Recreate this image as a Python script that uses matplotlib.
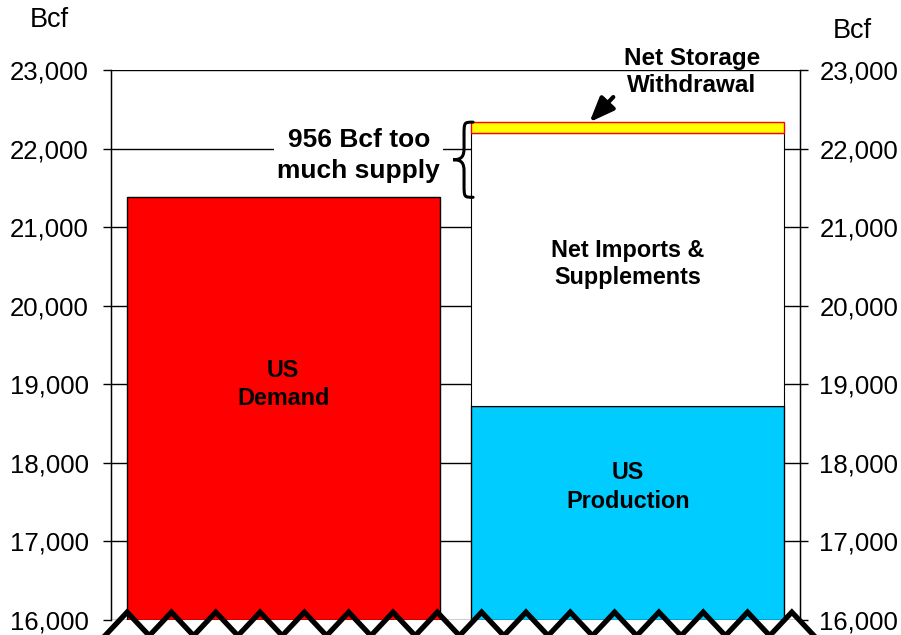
import matplotlib
matplotlib.use("Agg")
import matplotlib.pyplot as plt
import numpy as np
from matplotlib.path import Path
from matplotlib.patches import PathPatch

plt.rcParams['font.family'] = ['Liberation Sans', 'DejaVu Sans']

# ---- data ----
categories = ["US Demand", "Supply"]
demand = 21380
production = 18720
net_imports = 3480      # stacked above production
storage_withdrawal = 136  # stacked on top
y_ticks = [16000, 17000, 18000, 19000, 20000, 21000, 22000, 23000]
y_min, y_max = 16000, 23000

fig = plt.figure(figsize=(9.01, 6.35), dpi=100)
ax = fig.add_axes([111/901, 1-620/635, 689/901, 550/635])
ax.set_xlim(-0.5, 1.5)
ax.set_ylim(y_min, y_max)

w = 0.91
# left bar (demand)
ax.bar(0, demand - y_min, bottom=y_min, width=w, color='#FF0000', edgecolor='black', linewidth=1, zorder=2)
# right stacked bar
ax.bar(1, production - y_min, bottom=y_min, width=w, color='#00CCFF', edgecolor='black', linewidth=1, zorder=2)
ax.bar(1, net_imports, bottom=production, width=w, color='white', edgecolor='black', linewidth=0.8, zorder=2)
top_imp = production + net_imports
ax.bar(1, storage_withdrawal, bottom=top_imp, width=w, color='#FFFF00', edgecolor='#FF0000', linewidth=1, zorder=2)
supply_total = top_imp + storage_withdrawal

# grid
ax.set_yticks(y_ticks)
ax.yaxis.grid(True, color='black', linewidth=1)
ax.set_axisbelow(True)
ax.set_xticks([])
fmt = [f"{t:,}" for t in y_ticks]
ax.set_yticklabels(fmt)
ax.tick_params(axis='y', direction='out', length=6, width=1, pad=10, labelsize=18.5, colors='black')
for s in ['top', 'bottom']:
    ax.spines[s].set_visible(False)
for s in ['left', 'right']:
    ax.spines[s].set_linewidth(1)

ax2 = ax.twinx()
ax2.set_ylim(y_min, y_max)
ax2.set_yticks(y_ticks)
ax2.set_yticklabels(fmt)
ax2.tick_params(axis='y', direction='out', length=6, width=1, pad=8, labelsize=18.5)
for s in ['top', 'bottom']:
    ax2.spines[s].set_visible(False)

# axis unit labels
fig.text(49/901, 1-20/635, "Bcf", ha='center', va='center', fontsize=19.5)
fig.text(852/901, 1-31/635, "Bcf", ha='center', va='center', fontsize=19.5)

# bar labels
bold = dict(ha='center', va='center', fontweight='bold', fontsize=16.8, zorder=5, linespacing=1.25)
ax.text(0, 19000, "US\nDemand", **bold)
ax.text(1, 20530, "Net Imports &\nSupplements", **bold)
ax.text(1, 17690, "US\nProduction", **{**bold, 'linespacing': 1.32})
ax.text(1.186, 22975, "Net Storage\nWithdrawal", clip_on=False,
        **{**bold, 'fontsize': 17.5, 'linespacing': 1.25})
ax.text(0.219, 21910, f"{supply_total - demand:,} Bcf too\nmuch supply", ha='center', va='center',
        fontweight='bold', fontsize=19, linespacing=1.38, zorder=5,
        bbox=dict(facecolor='white', edgecolor='none', pad=2))

# arrow
ax.annotate("", xy=(0.889, supply_total), xytext=(0.958, 22656),
            arrowprops=dict(arrowstyle='-|>,head_length=1.5,head_width=0.6', color='black', lw=3,
                            shrinkA=0, shrinkB=0), zorder=6, annotation_clip=False)

# curly brace from demand top to supply top
xr = 0.551
xm = 0.5248
xt = 0.4927
yt, yb = supply_total, demand
ym = (yt + yb)/2
c = 170
c2 = 150
verts = [(xr, yt), (xm, yt), (xm, yt), (xm, yt - c),
         (xm, ym + c2),
         (xm, ym + c2*0.3), (xm - 0.006, ym), (xt, ym),
         (xm - 0.006, ym), (xm, ym - c2*0.3), (xm, ym - c2),
         (xm, yb + c),
         (xm, yb), (xm, yb), (xr, yb)]
codes = [Path.MOVETO, Path.CURVE4, Path.CURVE4, Path.CURVE4,
         Path.LINETO,
         Path.CURVE4, Path.CURVE4, Path.CURVE4,
         Path.CURVE4, Path.CURVE4, Path.CURVE4,
         Path.LINETO,
         Path.CURVE4, Path.CURVE4, Path.CURVE4]
ax.add_patch(PathPatch(Path(verts, codes), facecolor='none', edgecolor='black', lw=2.2,
                       zorder=6, clip_on=False, capstyle='round'))

# zigzag axis-break decoration along the bottom
n_seg = 32
zx = np.linspace(-0.5175, 1.5407, n_seg + 1)
zy = np.where(np.arange(n_seg + 1) % 2 == 0, 15800, 16100)
ax.plot(zx, zy, color='black', lw=3.8, solid_joinstyle='miter', clip_on=False, zorder=7)

fig.savefig("out.png", dpi=100)
